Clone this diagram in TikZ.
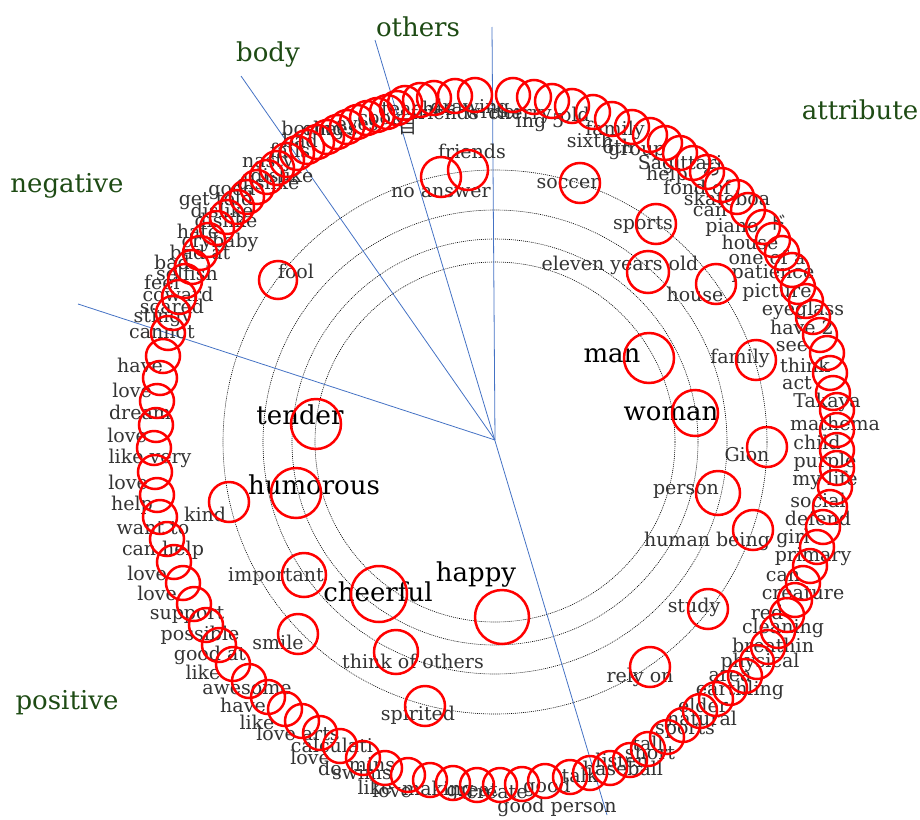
\documentclass[tikz,border=0pt]{standalone}
\usepackage{fontspec}
\setmainfont{DejaVu Serif}
\newfontfamily\cjk{Noto Sans CJK JP}
\definecolor{divblue}{RGB}{68,114,196}
\definecolor{catgreen}{RGB}{30,75,20}
\tikzset{
	word/.style={text=black!80, font=\fontsize{19}{21}\selectfont, inner sep=0pt},
	bigword/.style={text=black, font=\fontsize{26}{28}\selectfont, inner sep=0pt},
	catlabel/.style={text=catgreen, font=\fontsize{26}{28}\selectfont, inner sep=0pt},
	hit/.style={draw=red, line width=2.5pt},
	guide/.style={draw=black, line width=0.6pt, dash pattern=on 1pt off 1pt},
	divider/.style={draw=divblue, line width=0.8pt}
}
% words on the outer ring (label x / y / text)
\newcommand\ringwords{418/108/teacher, 445/112/friends, 470/108/drawing, 494/112/writer,
	520/114/cherry, 540/123/ing 5, 575/114/old, 615/130/family, 590/140/sixth, 618/146/6th,
	637/153/group, 680/165/Sagittari, 667/175/help, 712/168/{\cjk お}, 697/187/fond of,
	727/198/skateboa, 710/212/can, 732/227/piano, 778/223/{\cjk ド}, 750/242/house,
	767/257/one of a, 773/273/patience, 777/292/picture, 803/310/eyeglass, 802/327/have 2,
	792/347/see, 805/365/think, 797/383/act, 827/402/Takaya, 835/423/mathema,
	817/442/child, 825/462/purple, 825/480/my life, 818/500/social, 818/518/defend,
	793/538/girl, 813/557/primary, 783/577/can, 803/593/creature, 767/612/red,
	783/628/cleaning, 773/645/breathin, 760/662/physical, 730/677/area, 740/690/earthling,
	703/705/elder, 702/718/natural, 685/730/sports, 648/743/tall, 650/752/short,
	622/760/listen, 623/768/baseball, 580/775/talk, 547/787/good, 557/807/good person,
	497/792/create, 472/792/great, 438/790/making, 392/790/love, 375/787/like,
	362/773/swims, 372/765/mins, 330/768/do, 310/757/love, 332/745/calculati,
	298/733/love arts, 257/722/like, 243/705/have, 247/690/awesome, 203/672/like,
	210/655/good at, 200/635/possible, 187/615/support, 157/593/love, 147/573/love,
	163/550/can help, 153/528/want to, 132/505/help, 128/482/love, 150/458/like very,
	127/435/love, 140/412/dream, 132/390/love, 140/365/have, 162/332/cannot,
	163/318/stingy, 172/306/scared, 178/294/coward, 162/282/feel, 187/273/selfish,
	172/262/bad, 200/252/bad at, 220/242/crybaby, 198/231/hate, 226/220/dislike,
	222/210/dislike, 216/200/get told, 232/190/good, 268/182/dislike, 282/175/dislike,
	268/163/nasty, 290/150/fails, 300/140/bad, 313/130/boring, 330/128/chees,
	357/128/eyes, 380/117/cook, 408/127/{\cjk 目}}
% red circles of the outer ring (centre x / y)
\newcommand\ringhits{405/103, 420/100, 434/98, 455/96, 475/95, 513/95, 534/97, 552/101,
	572/106, 593/112, 612/119, 632/127, 650/135, 665/143, 680/153, 693/163, 707/172,
	722/185, 737/197, 748/210, 763/227, 773/240, 782/253, 792/270, 798/287, 806/301,
	813/317, 820/335, 827/353, 830/373, 833/393, 837/410, 837/430, 837/450, 837/468,
	835/487, 830/507, 823/527, 817/547, 810/566, 803/583, 795/600, 787/615, 778/631,
	768/647, 757/662, 745/676, 730/688, 716/699, 700/711, 683/725, 667/737, 648/749,
	630/760, 610/768, 590/773, 570/777, 545/781, 522/784, 500/785, 477/785, 453/783,
	430/780, 408/775, 385/768, 363/758, 340/746, 320/733, 302/721, 285/709, 268/697,
	249/681, 233/664, 219/645, 206/625, 194/604, 183/583, 174/562, 167/539, 160/517,
	157/495, 155/472, 154/448, 156/425, 157/401, 160/378, 163/356, 168/333, 173/313,
	179/297, 185/281, 192/267, 200/253, 208/240, 217/228, 227/217, 237/207, 247/197,
	257/187, 267/177, 277/168, 287/160, 297/153, 307/147, 317/142, 327/137, 337/132,
	347/127, 357/122, 367/118, 377/115, 387/112, 397/108}
% words inside the ring (circle x / y / radius / label x / y / style / text)
\newcommand\innerwords{468/170/20/472/151/word/friends, 441/177/20/441/193/word/no answer,
	580/183/20/568/184/word/soccer, 656/224/20/643/225/word/sports,
	648/272/21/620/265/word/eleven years old, 716/284/20/695/294/word/house,
	649/358/25/612/356/bigword/man, 756/360/20/740/358/word/family,
	695/413/23/671/414/bigword/woman, 767/447/20/747/455/word/Gion,
	718/493/22/686/491/word/person, 753/530/20/707/541/word/human being,
	708/609/20/694/607/word/study, 650/667/20/640/677/word/rely on,
	502/617/27/476/575/bigword/happy, 379/594/28/378/592/bigword/cheerful,
	396/652/22/413/661/word/think of others, 425/706/20/418/715/word/spirited,
	298/634/20/278/642/word/smile, 304/575/22/276/576/word/important,
	229/502/20/205/514/word/kind, 296/493/25/314/485/bigword/humorous,
	316/424/25/300/415/bigword/tender, 278/280/19/296/271/word/fool}

\begin{document}
\begin{tikzpicture}[x=1pt, y=-1pt]
	\useasboundingbox (0,0) rectangle (920,819);
	\coordinate (ctr) at (495,440);
	\coordinate (rings) at (495,442);
	% dotted guide circles
	\foreach \r in {180,203,232,272}
	{
		\draw[guide] (rings) circle (\r pt);
	}
	% dividing lines
	\coordinate (topEnd) at (492,27);
	\coordinate (othersEnd) at (375,40);
	\coordinate (othersFoot) at (607,815);
	\coordinate (bodyEnd) at (241,76);
	\coordinate (negEnd) at (78,304);
	\draw[divider] (ctr) -- (topEnd);
	\draw[divider] (othersEnd) -- (othersFoot);
	\draw[divider] (ctr) -- (bodyEnd);
	\draw[divider] (ctr) -- (negEnd);
	% category labels
	\node[catlabel] (catOthers) at (418,27) {others};
	\node[catlabel] (catBody) at (268,55) {body};
	\node[catlabel] (catAttr) at (860,110) {attribute};
	\node[catlabel] (catNeg) at (67,186) {negative};
	\node[catlabel] (catPos) at (67,703) {positive};
	% words of the outer ring
	\foreach \lx/\ly/\t [count=\i] in \ringwords
	{
		\node[word] (out\i) at (\lx,\ly) {\t};
	}
	% words inside
	\foreach \cx/\cy/\r/\lx/\ly/\s/\t [count=\i] in \innerwords
	{
		\node[\s] (in\i) at (\lx,\ly) {\t};
	}
	% red circles of the outer ring
	\foreach \cx/\cy in \ringhits
	{
		\draw[hit] (\cx,\cy) circle (17pt);
	}
	% red circles inside
	\foreach \cx/\cy/\r/\lx/\ly/\s/\t in \innerwords
	{
		\draw[hit] (\cx,\cy) circle (\r pt);
	}
\end{tikzpicture}
\end{document}
